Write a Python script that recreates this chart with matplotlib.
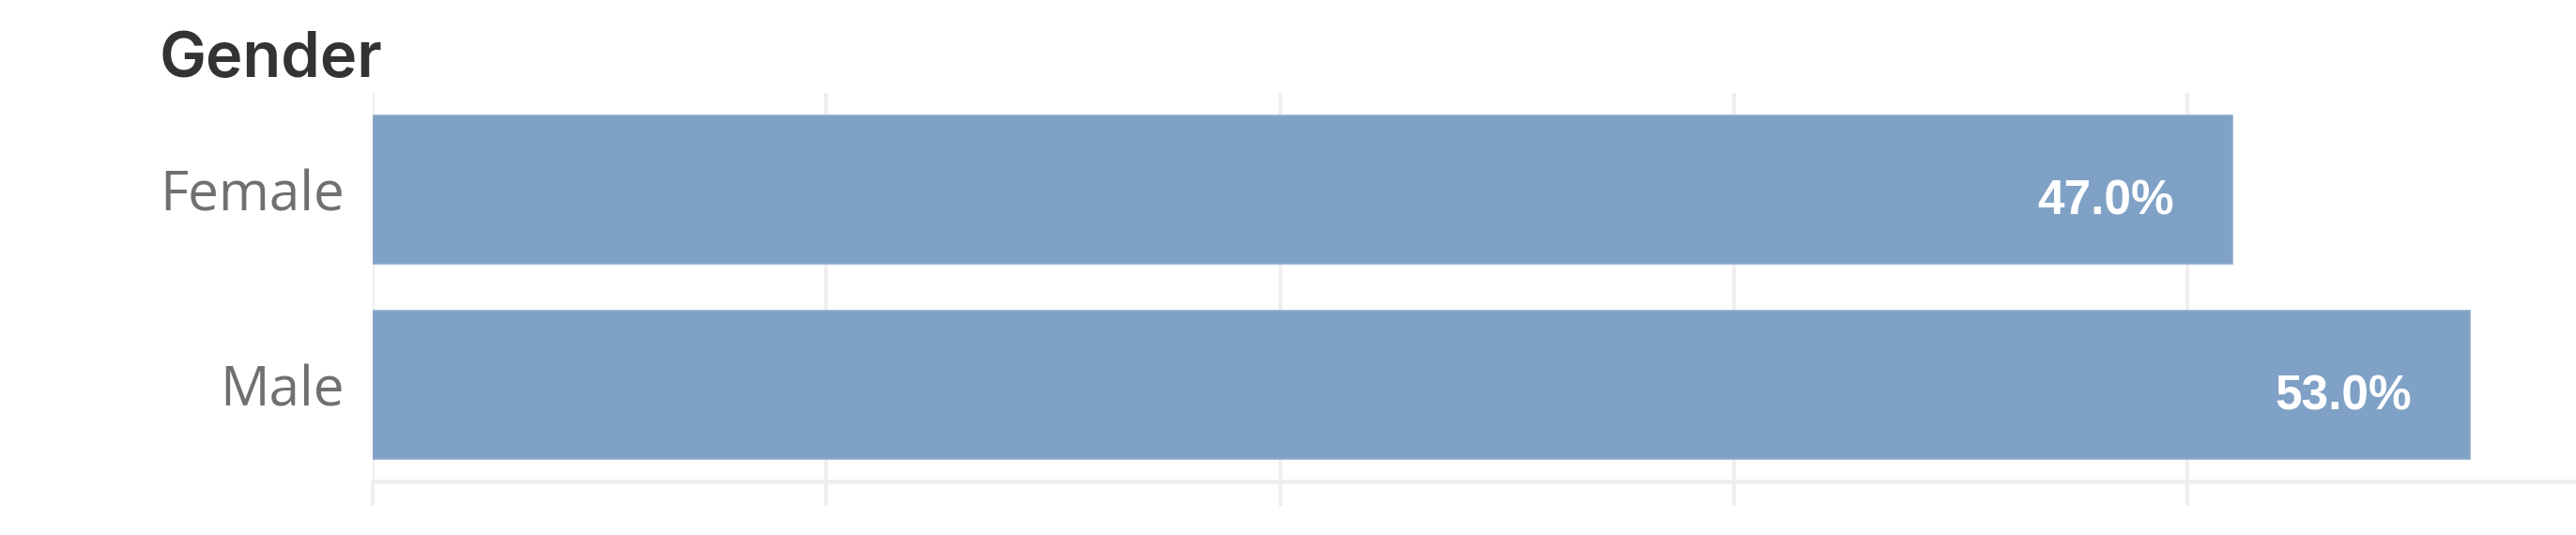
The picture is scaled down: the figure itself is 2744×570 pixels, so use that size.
import matplotlib
matplotlib.use("Agg")
import matplotlib.pyplot as plt

# data
categories = ["Female", "Male"]
shares = [47.0, 53.0]                          # percent of total
grid_ticks = [0, 11.47, 22.93, 34.40, 45.86]   # light vertical gridlines
x_max = 55.68
title = "Gender"

DPI = 200
W, H = 2744, 570
PX = 72.0 / DPI   # one pixel in points

bar_color = "#7fa1c5"
grid_color = "#efefef"

fig = plt.figure(figsize=(W / DPI, H / DPI), dpi=DPI)
ax = fig.add_axes([397 / W, 57 / H, 1 - 397 / W, 414 / H])

ypos = list(range(len(categories)))
ax.barh(ypos, shares, height=0.76, color=bar_color, edgecolor="#8eadcc",
        linewidth=0.6, zorder=2)

for y, v in zip(ypos, shares):
    ax.annotate(f"{v:.1f}%", xy=(v, y), xytext=(-62 * PX, -26 * PX),
                textcoords="offset points", ha="right", va="baseline",
                color="white", fontsize=18.5, fontweight="bold",
                family="Liberation Sans", zorder=3)

ax.set_xlim(0, x_max)
ax.set_ylim(len(categories) - 1 + 0.495, -0.4976)

ax.set_xticks(grid_ticks)
ax.set_xticklabels([])
ax.grid(axis="x", color=grid_color, linewidth=4 * PX)
ax.grid(axis="y", visible=False)
ax.set_axisbelow(True)
ax.tick_params(axis="x", length=26 * PX, width=4 * PX, color=grid_color,
               direction="out")

ax.set_yticks(ypos)
ax.set_yticklabels(categories, fontsize=21, color="#707070",
                   family="Open Sans")
ax.tick_params(axis="y", length=0, pad=30 * PX)

for side in ["top", "right", "left"]:
    ax.spines[side].set_visible(False)
ax.spines["bottom"].set_color(grid_color)
ax.spines["bottom"].set_linewidth(5 * PX)

fig.text(170 / W, 1 - 82 / H, title, fontsize=24, fontweight="semibold",
         color="#333333", family="Inter", ha="left", va="baseline")

fig.savefig("out.png", dpi=DPI, facecolor="white")
